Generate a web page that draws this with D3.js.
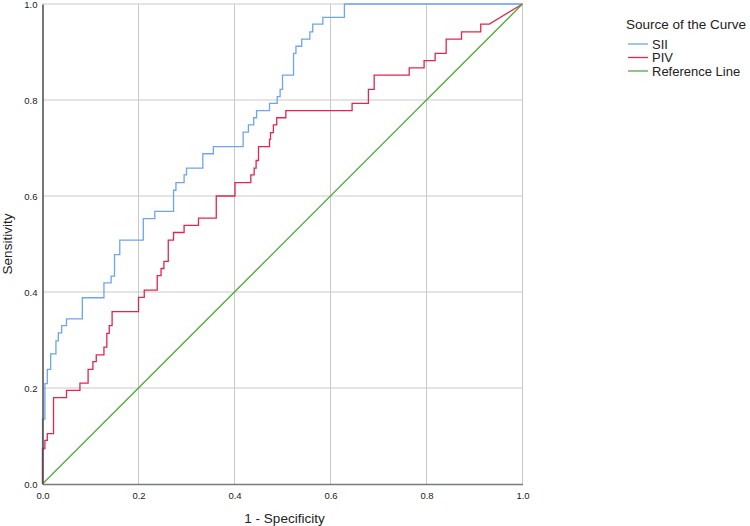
<!DOCTYPE html>
<html>
<head>
<meta charset="utf-8">
<script src="https://cdn.jsdelivr.net/npm/d3@7"></script>
<style>
  body { margin: 0; background: #fff; }
  svg { display: block; font-family: "Liberation Sans", Arial, sans-serif; }
</style>
</head>
<body>
<script>
// ROC vertices (1 - specificity, sensitivity)
let sii_fpr = [0, 0, 0.005, 0.005, 0.010, 0.010, 0.017, 0.017, 0.028, 0.028, 0.033, 0.033, 0.040, 0.040,
  0.050, 0.050, 0.083, 0.083, 0.128, 0.128, 0.143, 0.143, 0.150, 0.150, 0.161, 0.161, 0.210, 0.210,
  0.234, 0.234, 0.273, 0.273, 0.278, 0.278, 0.295, 0.295, 0.300, 0.300, 0.334, 0.334, 0.356, 0.356,
  0.418, 0.418, 0.429, 0.429, 0.440, 0.440, 0.446, 0.446, 0.473, 0.473, 0.489, 0.489, 0.495, 0.495,
  0.500, 0.500, 0.523, 0.523, 0.528, 0.528, 0.540, 0.540, 0.557, 0.557, 0.563, 0.563, 0.584, 0.584,
  0.629, 0.629, 1]
let sii_tpr = [0, 0.135, 0.135, 0.209, 0.209, 0.239, 0.239, 0.271, 0.271, 0.298, 0.298, 0.315, 0.315, 0.330,
  0.330, 0.344, 0.344, 0.388, 0.388, 0.419, 0.419, 0.433, 0.433, 0.478, 0.478, 0.508, 0.508, 0.553,
  0.553, 0.568, 0.568, 0.612, 0.612, 0.628, 0.628, 0.644, 0.644, 0.658, 0.658, 0.688, 0.688, 0.703,
  0.703, 0.733, 0.733, 0.748, 0.748, 0.763, 0.763, 0.778, 0.778, 0.793, 0.793, 0.807, 0.807, 0.822,
  0.822, 0.852, 0.852, 0.897, 0.897, 0.912, 0.912, 0.927, 0.927, 0.942, 0.942, 0.958, 0.958, 0.972,
  0.972, 1, 1]

let piv_fpr = [0, 0, 0.005, 0.005, 0.010, 0.010, 0.023, 0.023, 0.050, 0.050, 0.078, 0.078, 0.095, 0.095,
  0.105, 0.105, 0.112, 0.112, 0.128, 0.128, 0.134, 0.134, 0.139, 0.139, 0.145, 0.145, 0.200, 0.200,
  0.212, 0.212, 0.239, 0.239, 0.247, 0.247, 0.253, 0.253, 0.262, 0.262, 0.273, 0.273, 0.295, 0.295,
  0.325, 0.325, 0.362, 0.362, 0.401, 0.401, 0.434, 0.434, 0.441, 0.441, 0.445, 0.445, 0.450, 0.450,
  0.473, 0.473, 0.475, 0.475, 0.481, 0.481, 0.488, 0.488, 0.507, 0.507, 0.645, 0.645, 0.679, 0.679,
  0.691, 0.691, 0.764, 0.764, 0.795, 0.795, 0.818, 0.818, 0.841, 0.841, 0.873, 0.873, 0.913, 0.913,
  0.931, 1]
let piv_tpr = [0, 0.074, 0.074, 0.091, 0.091, 0.105, 0.105, 0.180, 0.180, 0.195, 0.195, 0.210, 0.210, 0.239,
  0.239, 0.255, 0.255, 0.269, 0.269, 0.285, 0.285, 0.314, 0.314, 0.330, 0.330, 0.359, 0.359, 0.389,
  0.389, 0.404, 0.404, 0.434, 0.434, 0.449, 0.449, 0.464, 0.464, 0.508, 0.508, 0.524, 0.524, 0.539,
  0.539, 0.554, 0.554, 0.600, 0.600, 0.628, 0.628, 0.644, 0.644, 0.658, 0.658, 0.674, 0.674, 0.703,
  0.703, 0.718, 0.718, 0.732, 0.732, 0.748, 0.748, 0.763, 0.763, 0.778, 0.778, 0.793, 0.793, 0.822,
  0.822, 0.852, 0.852, 0.867, 0.867, 0.882, 0.882, 0.897, 0.897, 0.927, 0.927, 0.942, 0.942, 0.958,
  0.958, 1]

let ref_fpr = [0, 1]
let ref_tpr = [0, 1]

let series_names = ['SII', 'PIV', 'Reference Line']
let series_colors = ['#6ea5ec', '#e0274f', '#55a942']
let tick_values = [0, 0.2, 0.4, 0.6, 0.8, 1.0]

let width = 750, height = 526
let margin = {top: 4, right: 227.5, bottom: 42, left: 42.5}

let svg = d3.select('body').append('svg')
    .attr('width', width)
    .attr('height', height)

let x = d3.scaleLinear()
    .domain([0, 1])
    .range([margin.left, width - margin.right])

let y = d3.scaleLinear()
    .domain([0, 1])
    .range([height - margin.bottom, margin.top])

// grid
let grid = svg.append('g').attr('stroke', '#c9c9c9').attr('stroke-width', 1)
grid.selectAll('.gx')
  .data(tick_values.slice(1))
  .join('line')
    .attr('x1', d => x(d)).attr('x2', d => x(d))
    .attr('y1', y(0)).attr('y2', y(1))
grid.selectAll('.gy')
  .data(tick_values.slice(1))
  .join('line')
    .attr('class', 'gy')
    .attr('x1', x(0)).attr('x2', x(1))
    .attr('y1', d => y(d)).attr('y2', d => y(d))

let xAxis = g => g
    .attr('transform', `translate(0,${y(0)})`)
    .call(d3.axisBottom(x).tickValues(tick_values).tickFormat(d3.format('.1f')).tickSize(0).tickPadding(8))
    .call(g => g.select('.domain').attr('stroke', '#7a7a7a').attr('stroke-width', 1.5))
    .call(g => g.selectAll('text').attr('fill', '#222').style('font-size', '9.5px'))

let yAxis = g => g
    .attr('transform', `translate(${x(0)},0)`)
    .call(d3.axisLeft(y).tickValues(tick_values).tickFormat(d3.format('.1f')).tickSize(0).tickPadding(5))
    .call(g => g.select('.domain').attr('stroke', '#4a4a4a').attr('stroke-width', 1.5))
    .call(g => g.selectAll('text').attr('fill', '#222').style('font-size', '9.5px'))

let line = d3.line()
    .x(d => x(d[0]))
    .y(d => y(d[1]))

let curves = [
  d3.zip(sii_fpr, sii_tpr),
  d3.zip(piv_fpr, piv_tpr),
  d3.zip(ref_fpr, ref_tpr)
]

svg.append('g')
  .selectAll('path')
  .data(curves)
  .join('path')
    .attr('fill', 'none')
    .attr('stroke', (d, i) => series_colors[i])
    .attr('stroke-width', 1.3)
    .attr('d', line)

svg.append('g').call(xAxis)
svg.append('g').call(yAxis)

svg.append('text')
    .text('1 - Specificity')
    .attr('text-anchor', 'middle')
    .attr('x', (x(0) + x(1)) / 2 + 2)
    .attr('y', 523)
    .attr('fill', '#222')
    .style('font-size', '13.5px')

svg.append('text')
    .text('Sensitivity')
    .attr('text-anchor', 'middle')
    .attr('transform', 'rotate(-90)')
    .attr('x', -(y(0) + y(1)) / 2)
    .attr('y', 12)
    .attr('fill', '#222')
    .style('font-size', '13.5px')

// legend
let legend = svg.append('g').attr('transform', 'translate(626,0)')
legend.append('text')
    .text('Source of the Curve')
    .attr('x', 0)
    .attr('y', 29)
    .attr('fill', '#222')
    .style('font-size', '13.5px')

let item = legend.selectAll('.item')
  .data(series_names)
  .join('g')
    .attr('class', 'item')
    .attr('transform', (d, i) => `translate(0,${44 + i * 13.5})`)

item.append('line')
    .attr('x1', 2).attr('x2', 22)
    .attr('stroke', (d, i) => series_colors[i])
    .attr('stroke-width', 1.3)

item.append('text')
    .text(d => d)
    .attr('x', 26)
    .attr('y', 4.5)
    .attr('fill', '#222')
    .style('font-size', '13px')
</script>
</body>
</html>
